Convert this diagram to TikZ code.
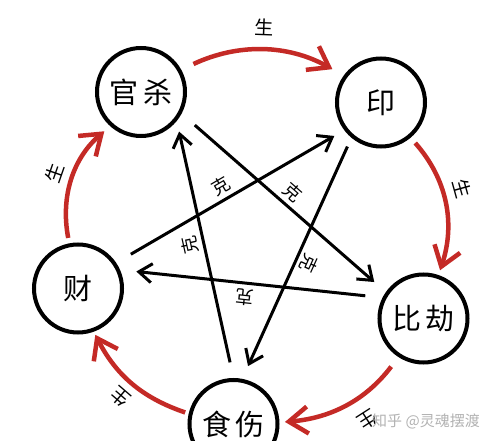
\documentclass[tikz,border=0pt]{standalone}
\usepackage{fontspec}
\setmainfont{Noto Sans CJK SC}
\usetikzlibrary{arrows.meta}
\definecolor{shengred}{RGB}{196,42,38}
\begin{document}
\begin{tikzpicture}[x=1pt,y=-1pt,
  elem/.style={circle,draw=black,line width=4pt,minimum size=88pt,inner sep=0pt,
    font=\fontsize{29}{29}\selectfont},
  sheng/.style={draw=shengred,line width=4.5pt,
    -{Straight Barb[length=19pt,width=27pt]}},
  ke/.style={draw=black,line width=3pt,
    -{Straight Barb[length=13pt,width=19pt]}},
  shenglbl/.style={font=\fontsize{19}{19}\selectfont,sloped,allow upside down,inner sep=1pt},
  kelbl/.style={font=\fontsize{18}{18}\selectfont,sloped,allow upside down,inner sep=1pt},
]
\useasboundingbox (0,0) rectangle (491,441);
\clip (0,0) rectangle (491,441);

% elements
\node[elem] (gs)  at (141,92)     {官\hspace{5pt}杀};
\node[elem] (yin) at (381,102.5)  {印};
\node[elem] (bj)  at (423.5,318.5){比\hspace{4pt}劫};
\node[elem] (ss)  at (233.5,424)  {食\hspace{5pt}伤};
\node[elem] (cai) at (78,288.5)   {财};

% sheng cycle (red)
\draw[sheng,shorten <=13.5pt,shorten >=13pt]
  (gs.29.1) to[bend left=27] node[shenglbl,pos=0.5,above=12pt] {生} (yin.144.3);
\draw[sheng,shorten <=7pt,shorten >=5pt]
  (yin.-50) to[bend left=30] node[shenglbl,pos=0.44,above=9pt] {生} (bj.71.2);
\draw[sheng,shorten <=12pt,shorten >=5.5pt]
  (bj.-123) to[bend left=24] node[shenglbl,pos=0.43,above=13pt] {生} (ss.2.2);
\draw[sheng,shorten <=3.7pt,shorten >=3.5pt]
  (ss.167.2) to[bend left=22] node[shenglbl,pos=0.5,above=7pt] {生} (cai.-70);
\draw[sheng,shorten <=5.5pt,shorten >=7.8pt]
  (cai.101.2) to[bend left=30] node[shenglbl,pos=0.5,above=7pt] {生} (gs.-132);

% ke star (black)
\draw[ke,shorten <=17.5pt,shorten >=15.3pt]
  (gs.-28.2) -- node[kelbl,pos=0.5,above=3pt] {克} (bj.145);
\draw[ke,shorten <=9.7pt,shorten >=14pt]
  (yin.-130.3) -- node[kelbl,pos=0.5,above=3pt] {克} (ss.79);
\draw[ke,shorten <=17.3pt,shorten >=16.4pt]
  (bj.153.2) -- node[kelbl,pos=0.52,above=3pt] {克} (cai.24.1);
\draw[ke,shorten <=16pt,shorten >=10.9pt]
  (ss.90.5) -- node[kelbl,pos=0.53,above=3pt] {克} (gs.-39.3);
\draw[ke,shorten <=17pt,shorten >=11.5pt]
  (cai.34.3) -- node[kelbl,pos=0.49,above=3pt] {克} (yin.-143.1);

% watermark
\node[text=gray!60,font=\fontsize{15}{15}\selectfont,inner sep=0pt] (wm) at (426,421) {知乎 @灵魂摆渡};
\end{tikzpicture}
\end{document}
